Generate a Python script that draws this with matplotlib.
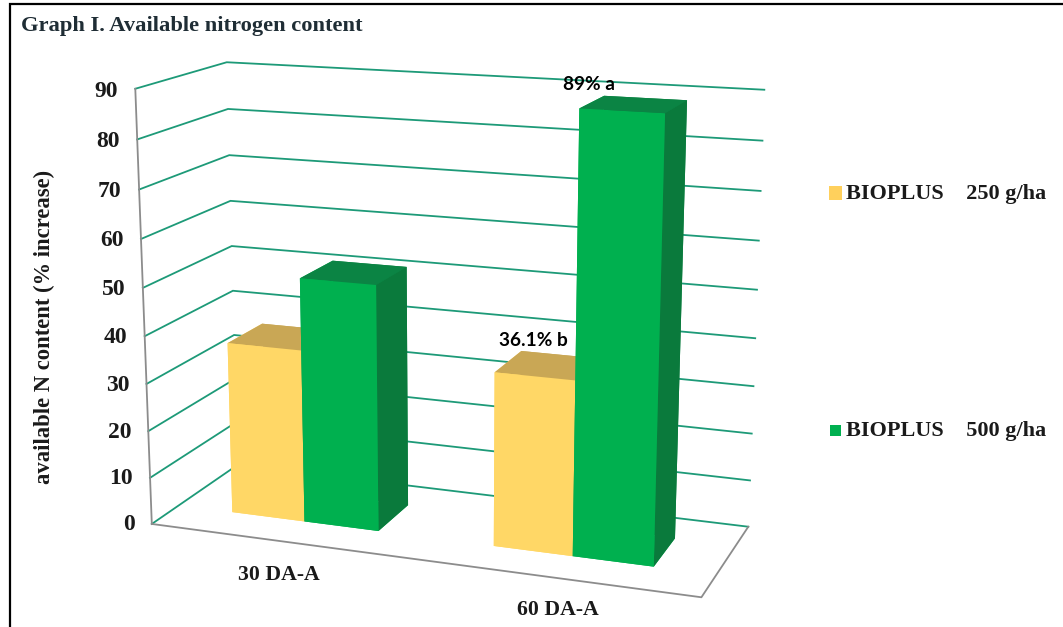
import numpy as np
import matplotlib
matplotlib.use('Agg')
import matplotlib.pyplot as plt
from matplotlib.patches import Rectangle
from mpl_toolkits.mplot3d import proj3d

categories = ['30 DA-A', '60 DA-A']
cat_pos = [0.5, 1.5]
dose_250 = [36.6, 36.1]
dose_500 = [51.6, 89.0]
label_250 = ['', '36.1% b']
label_500 = ['', '89% a']
z_ticks = [0, 10, 20, 30, 40, 50, 60, 70, 80, 90]

yellow = ['#FFD966', '#C9A755', '#FFD766', '#C9A755', '#FFD766', '#C9A755']
green = ['#00B050', '#0B8444', '#00B04F', '#0B8444', '#00B04F', '#0A7A3C']
grid_col = '#1D9A78'
edge_col = '#8C8C8C'
serif = 'Liberation Serif'

W, H = 1063, 627
fig = plt.figure(figsize=(W / 100, H / 100), dpi=100)

# camera was fitted against the box corners of the picture
ax = fig.add_axes([70.4 / W, (H - 692.0) / H, 737.8 / W, 737.9 / H], projection='3d')
ax.view_init(14.493, -69.801, 0.042)
ax.set_proj_type('persp', focal_length=0.532)
ax.set_box_aspect((1.284, 0.450, 1))
ax.computed_zorder = False
ax.set_axis_off()
ax.patch.set_alpha(0)
ax.set_xlim(0, 2)
ax.set_ylim(0, 1)
ax.set_zlim(0, 90)


def label3d(x, y, z, s, **kw):
    # project first, so the text sits in the axes as plain 2D text
    u, v, _ = proj3d.proj_transform(x, y, z, ax.get_proj())
    ax.text2D(u, v, s, transform=ax.transData, va='center', **kw)


# gridlines on left wall and back wall
for z in z_ticks:
    ax.plot([0, 0, 2], [0, 1, 1], [z, z, z], color=grid_col, lw=1.3, zorder=1, solid_joinstyle='miter')
    label3d(-0.068, 0, z - 0.7, str(z), family=serif, weight='bold', fontsize=17, color='#1a1a1a',
            ha='right', zorder=5)

# axis and floor edges
ax.plot([0, 0], [0, 0], [0, 90], color=edge_col, lw=1.3, zorder=1)
ax.plot([0, 2, 2], [0, 0, 1], [0, 0, 0], color=edge_col, lw=1.3, zorder=1)

bar_w = 0.285
y_front = 0.30
bar_d = 0.41
for c, a, b in zip(cat_pos, dose_250, dose_500):
    ax.bar3d(c - bar_w, y_front, 0, bar_w, bar_d, a, color=yellow, shade=False, linewidth=0, zorder=2)
    ax.bar3d(c, y_front, 0, bar_w, bar_d, b, color=green, shade=False, linewidth=0, zorder=3)

for c, a, b, la, lb in zip(cat_pos, dose_250, dose_500, label_250, label_500):
    if la:
        label3d(c - bar_w + 0.135, y_front, a + 7.1, la, family='Lato', weight='bold', fontsize=13.7,
                color='black', ha='center', zorder=6)
    if lb:
        label3d(c + 0.03, y_front, b + 4.6, lb, family='Lato', weight='bold', fontsize=13.7,
                color='black', ha='center', zorder=6)

cat_x = [0.63, 1.595]
cat_y = [-0.42, -0.38]
for x, y, name in zip(cat_x, cat_y, categories):
    label3d(x, y, 0, name, family=serif, weight='bold', fontsize=15.7, color='#1a1a1a',
            ha='center', zorder=5)

# page furniture in pixel coordinates
over = fig.add_axes([0, 0, 1, 1])
over.set_xlim(0, W)
over.set_ylim(H, 0)
over.axis('off')
over.plot([10, 10, W], [H, 4, 4], color='black', lw=1.6, solid_joinstyle='miter')
over.text(21, 26, 'Graph I. Available nitrogen content', family=serif, weight='bold', fontsize=16.2,
          color='#1f2d35', va='center')
over.text(44, 327, 'available N content (% increase)', family=serif, weight='bold', fontsize=16.3,
          color='#1a1a1a', rotation=90, ha='center', va='center')
over.add_patch(Rectangle((829, 186), 13, 14, color='#FFD05C', lw=0))
over.add_patch(Rectangle((830, 425), 11, 11, color='#00B050', lw=0))
over.text(846, 194, 'BIOPLUS    250 g/ha', family=serif, weight='bold', fontsize=16, color='#1a1a1a', va='center')
over.text(846, 431, 'BIOPLUS    500 g/ha', family=serif, weight='bold', fontsize=16, color='#1a1a1a', va='center')

fig.savefig('out.png', dpi=100)
